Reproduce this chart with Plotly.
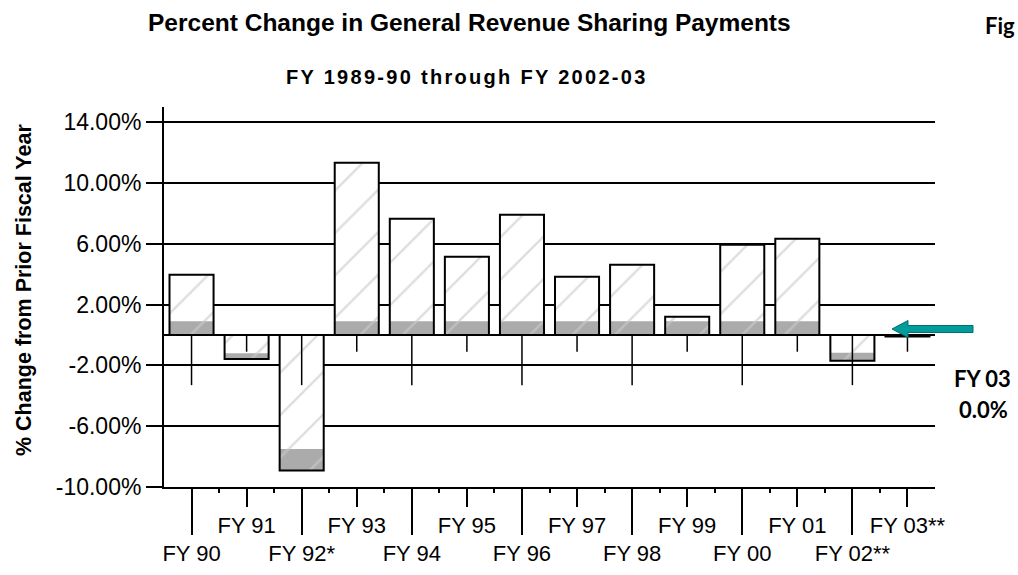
import plotly.graph_objects as go

# ---------------- data ----------------
fiscal_years = ["FY 90", "FY 91", "FY 92*", "FY 93", "FY 94", "FY 95", "FY 96",
                "FY 97", "FY 98", "FY 99", "FY 00", "FY 01", "FY 02**", "FY 03**"]
pct_change = [3.96, -1.58, -8.92, 11.33, 7.65, 5.15, 7.91,
              3.83, 4.62, 1.20, 5.94, 6.33, -1.69, -0.10]
gray_band = [0.90, 0.38, 1.42, 0.90, 0.90, 0.90, 0.90,
             0.90, 0.90, 0.90, 0.90, 0.90, 0.53, 0.0]
y_tick_vals = [-10, -6, -2, 2, 6, 10, 14]
y_tick_text = ["-10.00%", "-6.00%", "-2.00%", "2.00%", "6.00%", "10.00%", "14.00%"]

FONT = "Liberation Sans, Arial, sans-serif"
W, H = 1018, 575
ML, MR, MT, MB = 164, 83, 107, 88
PW, PH = W - ML - MR, H - MT - MB


def px(xp):
    return (xp - ML) / PW


def py(yp):
    return (H - MB - yp) / PH


n = len(fiscal_years)
pos = list(range(n))
base_gray = [0 if v >= 0 else v for v in pct_change]

fig = go.Figure()
# white hatched bars
fig.add_trace(go.Bar(
    x=pos, y=pct_change, width=0.8,
    marker=dict(color="white", opacity=1,
                pattern=dict(shape="/", fgcolor="#bcbcbc", bgcolor="white",
                             size=30, solidity=0.08),
                line=dict(width=0)),
    showlegend=False, hoverinfo="skip"))
# gray band
fig.add_trace(go.Bar(
    x=pos, y=gray_band, base=base_gray, width=0.8,
    marker=dict(color="#ababab", opacity=1,
                pattern=dict(shape="/", fgcolor="#d2d2d2", bgcolor="#ababab",
                             size=30, solidity=0.08),
                line=dict(width=0)),
    showlegend=False, hoverinfo="skip"))
# outlines
fig.add_trace(go.Bar(
    x=pos, y=pct_change, width=0.8,
    marker=dict(color="rgba(0,0,0,0)", line=dict(color="black", width=2)),
    showlegend=False, hoverinfo="skip"))
# dummy trace for overlay axis
fig.add_trace(go.Scatter(x=[], y=[], xaxis="x2", yaxis="y",
                         showlegend=False, hoverinfo="skip"))

odd = [i for i in pos if i % 2 == 1]
even = [i for i in pos if i % 2 == 0]

fig.update_layout(
    width=W, height=H,
    margin=dict(l=ML, r=MR, t=MT, b=MB, autoexpand=False),
    paper_bgcolor="white", plot_bgcolor="white",
    barmode="overlay", bargap=0.2,
    font=dict(family=FONT, color="black"),
    xaxis=dict(
        range=[-0.5, n - 0.5], tickmode="array",
        tickvals=odd, ticktext=[fiscal_years[i] for i in odd],
        ticks="outside", ticklen=18, tickwidth=1.5, tickcolor="black",
        showline=True, linecolor="black", linewidth=2,
        showgrid=False, zeroline=False, automargin=False,
        tickfont=dict(size=22, family=FONT),
        minor=dict(tickmode="array", tickvals=[i + 0.5 for i in pos[:-1]],
                   ticks="outside", ticklen=4, tickwidth=2, tickcolor="black",
                   showgrid=False),
    ),
    xaxis2=dict(
        overlaying="x", anchor="y", side="bottom",
        range=[-0.5, n - 0.5], tickmode="array",
        tickvals=even, ticktext=[fiscal_years[i] for i in even],
        ticks="outside", ticklen=47, tickwidth=1.5, tickcolor="black",
        showline=False, showgrid=False, zeroline=False, automargin=False,
        tickfont=dict(size=22, family=FONT),
    ),
    yaxis=dict(
        range=[-10, 15], tickmode="array",
        tickvals=y_tick_vals, ticktext=y_tick_text,
        ticks="outside", ticklen=16, tickwidth=1.5, tickcolor="black",
        showline=True, linecolor="black", linewidth=2,
        showgrid=True, gridcolor="black", gridwidth=1.5,
        zeroline=True, zerolinecolor="black", zerolinewidth=2,
        automargin=False,
        tickfont=dict(size=23, family=FONT),
    ),
)

# tick marks hanging from the zero line
shapes = []
for i in pos:
    shapes.append(dict(type="line", xref="x", yref="y", layer="above",
                       x0=i, x1=i, y0=0, y1=-3.3 if i % 2 == 0 else -1.1,
                       line=dict(color="black", width=1.5)))

# teal arrow pointing at FY 03
arrow_pts = [(892, 329), (908, 320.5), (908, 325.5), (973, 325.5),
             (973, 332.5), (908, 332.5), (908, 337.5)]
path = "M " + " L ".join(f"{px(a):.5f},{py(b):.5f}" for a, b in arrow_pts) + " Z"
shapes.append(dict(type="path", xref="paper", yref="paper", path=path,
                   fillcolor="#009b9b", line=dict(color="#007070", width=1),
                   layer="above"))
fig.update_layout(shapes=shapes)

annotations = [
    dict(text="<b>Percent Change in General Revenue Sharing Payments</b>",
         x=px(469), y=py(22), xref="paper", yref="paper", showarrow=False,
         xanchor="center", yanchor="middle",
         font=dict(size=24.5, family=FONT, color="black")),
    dict(text='<b><span style="letter-spacing:2.3px">FY 1989-90 through FY 2002-03</span></b>',
         x=px(467), y=py(77), xref="paper", yref="paper", showarrow=False,
         xanchor="center", yanchor="middle",
         font=dict(size=20, family=FONT, color="black")),
    dict(text="<b>% Change from Prior Fiscal Year</b>", textangle=-90,
         x=px(24), y=py(290), xref="paper", yref="paper", showarrow=False,
         xanchor="center", yanchor="middle",
         font=dict(size=21.5, family=FONT, color="black")),
    dict(text="<b>FY 03</b>", x=px(982), y=py(378), xref="paper", yref="paper",
         showarrow=False, xanchor="center", yanchor="middle",
         font=dict(size=22, family="Lato, Open Sans, sans-serif", color="black")),
    dict(text="<b>0.0%</b>", x=px(983), y=py(409), xref="paper", yref="paper",
         showarrow=False, xanchor="center", yanchor="middle",
         font=dict(size=22, family="Lato, Open Sans, sans-serif", color="black")),
    dict(text="<b>Fig</b>", x=px(1017), y=py(25), xref="paper", yref="paper",
         showarrow=False, xanchor="right", yanchor="middle",
         font=dict(size=22, family="Lato, Open Sans, sans-serif", color="black")),
]
fig.update_layout(annotations=annotations)

fig.write_html("out.html", config={"displayModeBar": False},
               post_script="document.body.style.margin='0';document.body.style.overflow='hidden';")
